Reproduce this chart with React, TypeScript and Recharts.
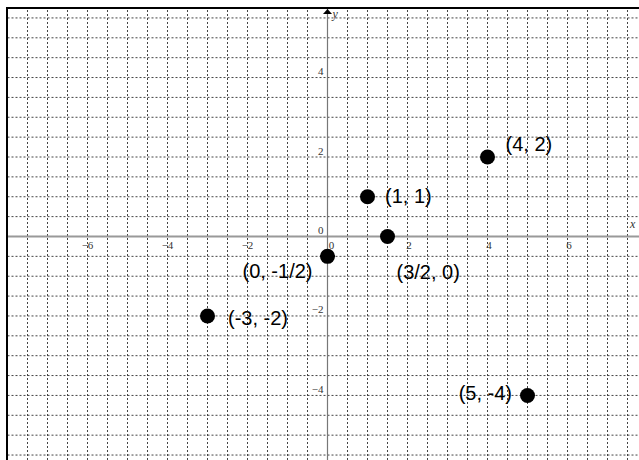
import {
    ReferenceDot,
    ReferenceLine,
    Scatter,
    ScatterChart,
    XAxis,
    YAxis,
} from "recharts";

// plotted points
const pointX = [4, 1, 1.5, 0, -3, 5];
const pointY = [2, 1, 0, -0.5, -2, -4];
const pointLabels = ["(4, 2)", "(1, 1)", "(3/2, 0)", "(0, -1/2)", "(-3, -2)", "(5, -4)"];

// axis tick labels (drawn on the axes through the origin)
const xTickValues = [-6, -4, -2, 0, 2, 4, 6];
const xTickLabels = ["\u22126", "\u22124", "\u22122", "0", "2", "4", "6"];
const yTickValues = [4, 2, 0, -2, -4];
const yTickLabels = ["4", "2", "0", "\u22122", "\u22124"];

// grid every half unit
const gridX = [
    -7.5, -7, -6.5, -6, -5.5, -5, -4.5, -4, -3.5, -3, -2.5, -2, -1.5, -1, -0.5, 0,
    0.5, 1, 1.5, 2, 2.5, 3, 3.5, 4, 4.5, 5, 5.5, 6, 6.5, 7, 7.5,
];
const gridY = [
    -5.5, -5, -4.5, -4, -3.5, -3, -2.5, -2, -1.5, -1, -0.5, 0,
    0.5, 1, 1.5, 2, 2.5, 3, 3.5, 4, 4.5, 5, 5.5,
];

const xDomain: [number, number] = [-8, 7.7875];
const yDomain: [number, number] = [-5.625, 5.75];

// where each point's label sits relative to its dot
const labelPlacement = [
    { dx: 18, dy: -13, anchor: "start" },
    { dx: 17.5, dy: -1, anchor: "start" },
    { dx: 9, dy: 35.5, anchor: "start" },
    { dx: -15, dy: 14.5, anchor: "end" },
    { dx: 20.5, dy: 2.5, anchor: "start" },
    { dx: -15.5, dy: -2, anchor: "end" },
];

const points = pointX.map((x, i) => ({ x, y: pointY[i], label: pointLabels[i], idx: i }));
const xTicks = xTickValues.map((x, i) => ({ x, y: 0, label: xTickLabels[i] }));
const yTicks = yTickValues.map((y, i) => ({ x: 0, y, label: yTickLabels[i] }));

const tickFont = { fontFamily: "'Liberation Serif', serif", fontSize: 11, fill: "#333" };
const gridStyle = { stroke: "#444", strokeDasharray: "2 2", strokeWidth: 1 };

const PointShape = (props: any) => {
    const { cx, cy, payload } = props;
    const p = labelPlacement[payload.idx];
    return (
        <g>
            <circle cx={cx} cy={cy} r={7.5} fill="#000" />
            <text
                x={cx + p.dx}
                y={cy + p.dy}
                textAnchor={p.anchor as any}
                dominantBaseline="central"
                fontFamily="'Liberation Sans', Arial, sans-serif"
                fontSize={20}
                fill="#000"
            >
                {payload.label}
            </text>
        </g>
    );
};

const XTickShape = (props: any) => {
    const { cx, cy, payload } = props;
    const dx = payload.x === 0 ? 4 : payload.x > 0 ? 1.5 : 0;
    return (
        <text x={cx + dx} y={cy + 9} textAnchor="middle" dominantBaseline="central" {...tickFont}>
            {payload.label}
        </text>
    );
};

const YTickShape = (props: any) => {
    const { cx, cy, payload } = props;
    return (
        <text x={cx - 4} y={cy - 6.5} textAnchor="end" dominantBaseline="central" {...tickFont}>
            {payload.label}
        </text>
    );
};

const ArrowUp = (props: any) => {
    const { cx, cy } = props;
    return (
        <g>
            <polygon points={`${cx - 4.5},${cy + 6} ${cx + 4.5},${cy + 6} ${cx},${cy + 1}`} fill="#000" />
            <text
                x={cx + 5}
                y={cy + 6}
                dominantBaseline="central"
                fontFamily="'Liberation Serif', serif"
                fontStyle="italic"
                fontSize={12}
                fill="#333"
            >
                y
            </text>
        </g>
    );
};

const XAxisName = (props: any) => {
    const { cx, cy } = props;
    return (
        <text
            x={cx - 9}
            y={cy - 12}
            dominantBaseline="central"
            fontFamily="'Liberation Serif', serif"
            fontStyle="italic"
            fontSize={12}
            fill="#333"
        >
            x
        </text>
    );
};

const App = () => {
    return (
        <div
            style={{
                position: "fixed",
                left: 0,
                top: 0,
                width: 639,
                height: 460,
                overflow: "hidden",
                background: "#fff",
            }}
        >
            <ScatterChart width={639} height={460} margin={{ top: 8, right: 0, bottom: 0, left: 7.5 }}>
                <XAxis type="number" dataKey="x" domain={xDomain} allowDataOverflow hide />
                <YAxis type="number" dataKey="y" domain={yDomain} allowDataOverflow hide />
                {gridX.map((v) => (
                    <ReferenceLine key={`gx${v}`} x={v} {...gridStyle} />
                ))}
                {gridY.map((v) => (
                    <ReferenceLine key={`gy${v}`} y={v} {...gridStyle} />
                ))}
                <ReferenceLine y={0} stroke="#999" strokeWidth={2} />
                <ReferenceLine x={0} stroke="#777" strokeWidth={1.2} />
                <ReferenceDot x={0} y={yDomain[1]} ifOverflow="visible" shape={ArrowUp} />
                <ReferenceDot x={xDomain[1]} y={0} ifOverflow="visible" shape={XAxisName} />
                <Scatter data={xTicks} fill="#333" shape={XTickShape} isAnimationActive={false} />
                <Scatter data={yTicks} fill="#333" shape={YTickShape} isAnimationActive={false} />
                <Scatter data={points} fill="#000" shape={PointShape} isAnimationActive={false} />
            </ScatterChart>
            <div
                style={{
                    position: "absolute",
                    left: 6,
                    top: 7,
                    width: 800,
                    height: 800,
                    borderTop: "2px solid #000",
                    borderLeft: "2px solid #000",
                    pointerEvents: "none",
                }}
            />
        </div>
    );
};

export default App;
